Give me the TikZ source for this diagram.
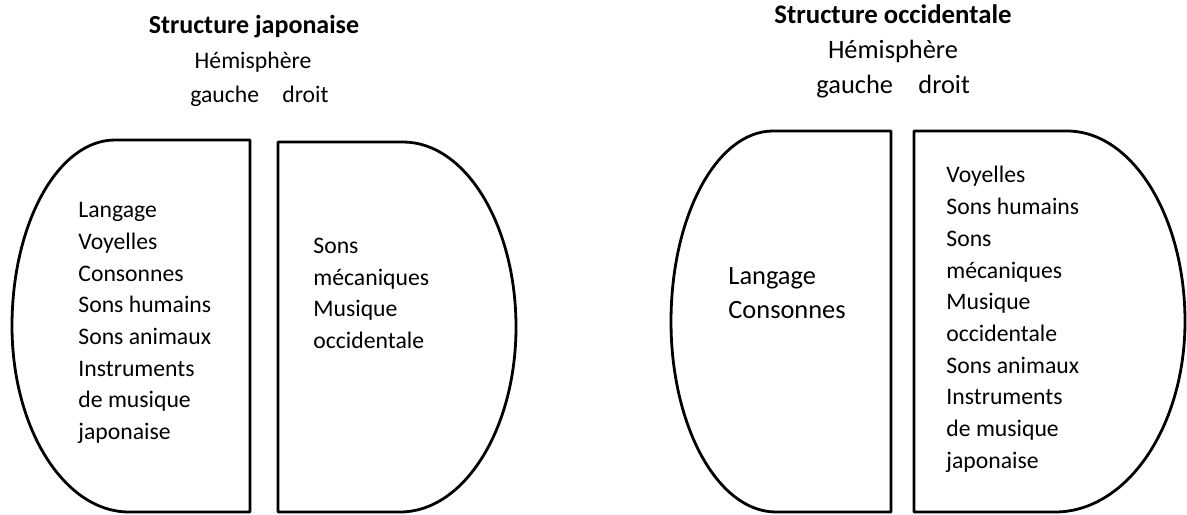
\documentclass[tikz,border=0pt]{standalone}
\usepackage{fontspec}
\setmainfont{Carlito}
\usepackage{tikz}

\begin{document}
\begin{tikzpicture}[x=0.5pt,y=0.5pt,line join=round,font=\fontsize{11.85}{14}\selectfont]
   \tikzstyle{lobe}=[draw=black,line width=1.4pt]
   \tikzstyle{word}=[inner sep=0pt,anchor=base west]
   \tikzstyle{head}=[inner sep=0pt,anchor=base]
   \tikzstyle{big}=[font=\fontsize{13.2}{16}\selectfont]
   \useasboundingbox (0,0) rectangle (1187,514);

   % structure japonaise
   \node[head,font=\fontsize{13}{16}\selectfont\bfseries] (Tj) at (254,480) {Structure japonaise};
   \node[head] (Hj) at (253,445) {Hémisphère};
   \node[word] (Gj) at (190,411) {gauche};
   \node[word] (Dj) at (282,411) {droit};

   \draw[lobe] (250,374) -- (115,374)
      arc[start angle=90,end angle=180,x radius=103,y radius=186]
      arc[start angle=180,end angle=270,x radius=117,y radius=186] -- (250,2) -- cycle;
   \draw[lobe] (278,2) -- (278,372) -- (403,372)
      arc[start angle=90,end angle=0,x radius=113,y radius=185]
      arc[start angle=0,end angle=-90,x radius=116,y radius=185] -- cycle;

   \foreach \t [count=\i] in {Langage,Voyelles,Consonnes,Sons humains,Sons animaux,Instruments,de musique,japonaise}
      \node[word] (Lj\i) at (78,{296-31.6*(\i-1)}) {\t};
   \foreach \t [count=\i] in {Sons,mécaniques,Musique,occidentale}
      \node[word] (Rj\i) at (313,{260-31.4*(\i-1)}) {\t};

   % structure occidentale
   \node[head,font=\fontsize{13.4}{16}\selectfont\bfseries] (To) at (893,490) {Structure occidentale};
   \node[head,big] (Ho) at (893,455) {Hémisphère};
   \node[word,big] (Go) at (816,420) {gauche};
   \node[word,big] (Do) at (918,420) {droit};

   \draw[lobe] (891,383) -- (773,383)
      arc[start angle=90,end angle=180,x radius=102,y radius=190.5]
      arc[start angle=180,end angle=270,x radius=105,y radius=190.5] -- (891,2) -- cycle;
   \draw[lobe] (914,2) -- (914,383) -- (1067,383)
      arc[start angle=90,end angle=0,x radius=118,y radius=190.5]
      arc[start angle=0,end angle=-90,x radius=130,y radius=190.5] -- cycle;

   \node[word,big] (Lo1) at (728,229) {Langage};
   \node[word,big] (Lo2) at (728,195) {Consonnes};
   \foreach \t [count=\i] in {Voyelles,Sons humains,Sons,mécaniques,Musique,occidentale,Sons animaux,Instruments,de musique,japonaise}
      \node[word] (Ro\i) at (946,{331-31.7*(\i-1)}) {\t};
\end{tikzpicture}
\end{document}
